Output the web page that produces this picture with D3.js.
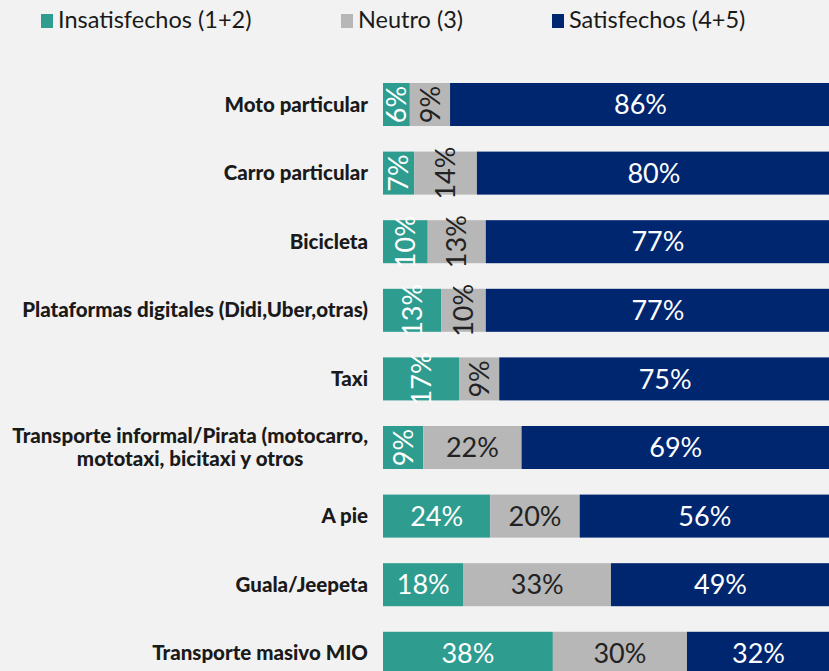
<!DOCTYPE html>
<html>
<head>
<meta charset="utf-8">
<script src="https://cdn.jsdelivr.net/npm/d3@7"></script>
<style>
  body { margin: 0; background: #f2f2f2; overflow: hidden; }
  svg { display: block; font-family: Lato, sans-serif; }
</style>
</head>
<body>
<div id="chart"></div>
<script>
// data
var categories = [
  "Moto particular",
  "Carro particular",
  "Bicicleta",
  "Plataformas digitales (Didi,Uber,otras)",
  "Taxi",
  "Transporte informal/Pirata (motocarro,|mototaxi, bicitaxi y otros",
  "A pie",
  "Guala/Jeepeta",
  "Transporte masivo MIO"
];
var insatisfechos = [6, 7, 10, 13, 17, 9, 24, 18, 38];
var neutro = [9, 14, 13, 10, 9, 22, 20, 33, 30];
var satisfechos = [86, 80, 77, 77, 75, 69, 56, 49, 32];
var seriesNames = ["Insatisfechos (1+2)", "Neutro (3)", "Satisfechos (4+5)"];
var seriesColors = ["#2e9c8f", "#b7b7b7", "#00266f"];
var labelColors = ["#ffffff", "#222222", "#ffffff"];

var w = 829, h = 671;

var svg = d3.select("#chart").append("svg")
    .attr("width", w)
    .attr("height", h);

svg.append("rect").attr("width", w).attr("height", h).attr("fill", "#f2f2f2");

var xScale = d3.scaleLinear().domain([0, 100]).range([383, 830]);

var yScale = d3.scaleBand()
    .domain(d3.range(categories.length))
    .range([83, 674.8])
    .paddingInner(0.373)
    .paddingOuter(0);

// stack the three series for each row
var rows = categories.map(function(c, i) {
    var vals = [insatisfechos[i], neutro[i], satisfechos[i]];
    var start = 0;
    return vals.map(function(v, s) {
        var seg = { row: i, s: s, v: v, x0: start, x1: start + v };
        start += v;
        return seg;
    });
});
var segs = [].concat.apply([], rows);

svg.selectAll("rect.bar")
    .data(segs)
    .enter()
    .append("rect")
    .attr("class", "bar")
    .attr("x", function(d) { return xScale(d.x0); })
    .attr("y", function(d) { return yScale(d.row); })
    .attr("width", function(d) { return xScale(d.x1) - xScale(d.x0); })
    .attr("height", yScale.bandwidth())
    .attr("fill", function(d) { return seriesColors[d.s]; });

// value labels, narrow segments get vertical text
svg.selectAll("text.val")
    .data(segs)
    .enter()
    .append("text")
    .attr("class", "val")
    .attr("transform", function(d) {
        var cx = (xScale(d.x0) + Math.min(xScale(d.x1), w + 2)) / 2;
        var cy = yScale(d.row) + yScale.bandwidth() / 2;
        if (d.v < 18) return "translate(" + cx + "," + cy + ") rotate(-90)";
        return "translate(" + cx + "," + cy + ")";
    })
    .attr("text-anchor", "middle")
    .attr("dy", "0.36em")
    .attr("font-size", "27px")
    .attr("fill", function(d) { return labelColors[d.s]; })
    .text(function(d) { return d.v + "%"; });

// category labels
var catG = svg.selectAll("g.cat")
    .data(categories)
    .enter()
    .append("g")
    .attr("class", "cat")
    .attr("transform", function(d, i) {
        return "translate(368," + (yScale(i) + yScale.bandwidth() / 2) + ")";
    });

catG.each(function(d) {
    var g = d3.select(this);
    var lines = d.split("|");
    var texts = lines.map(function(line, k) {
        return g.append("text")
            .attr("y", (k - (lines.length - 1) / 2) * 23)
            .attr("dy", "0.35em")
            .attr("font-size", "20.5px")
            .attr("font-weight", 900)
            .attr("fill", "#1a1a1a")
            .text(line);
    });
    var maxW = d3.max(texts, function(t) { return t.node().getComputedTextLength(); });
    texts.forEach(function(t) {
        t.attr("x", -maxW / 2).attr("text-anchor", "middle");
    });
});

// legend
var legendX = [41, 341, 552];
var legend = svg.selectAll("g.legend")
    .data(seriesNames)
    .enter()
    .append("g")
    .attr("class", "legend")
    .attr("transform", function(d, i) { return "translate(" + legendX[i] + ",14)"; });

legend.append("rect")
    .attr("width", 12)
    .attr("height", 14)
    .attr("fill", function(d, i) { return seriesColors[i]; });

legend.append("text")
    .attr("x", 17)
    .attr("y", 14)
    .attr("font-size", "23.5px")
    .attr("fill", "#1a1a1a")
    .text(function(d) { return d; });
</script>
</body>
</html>
